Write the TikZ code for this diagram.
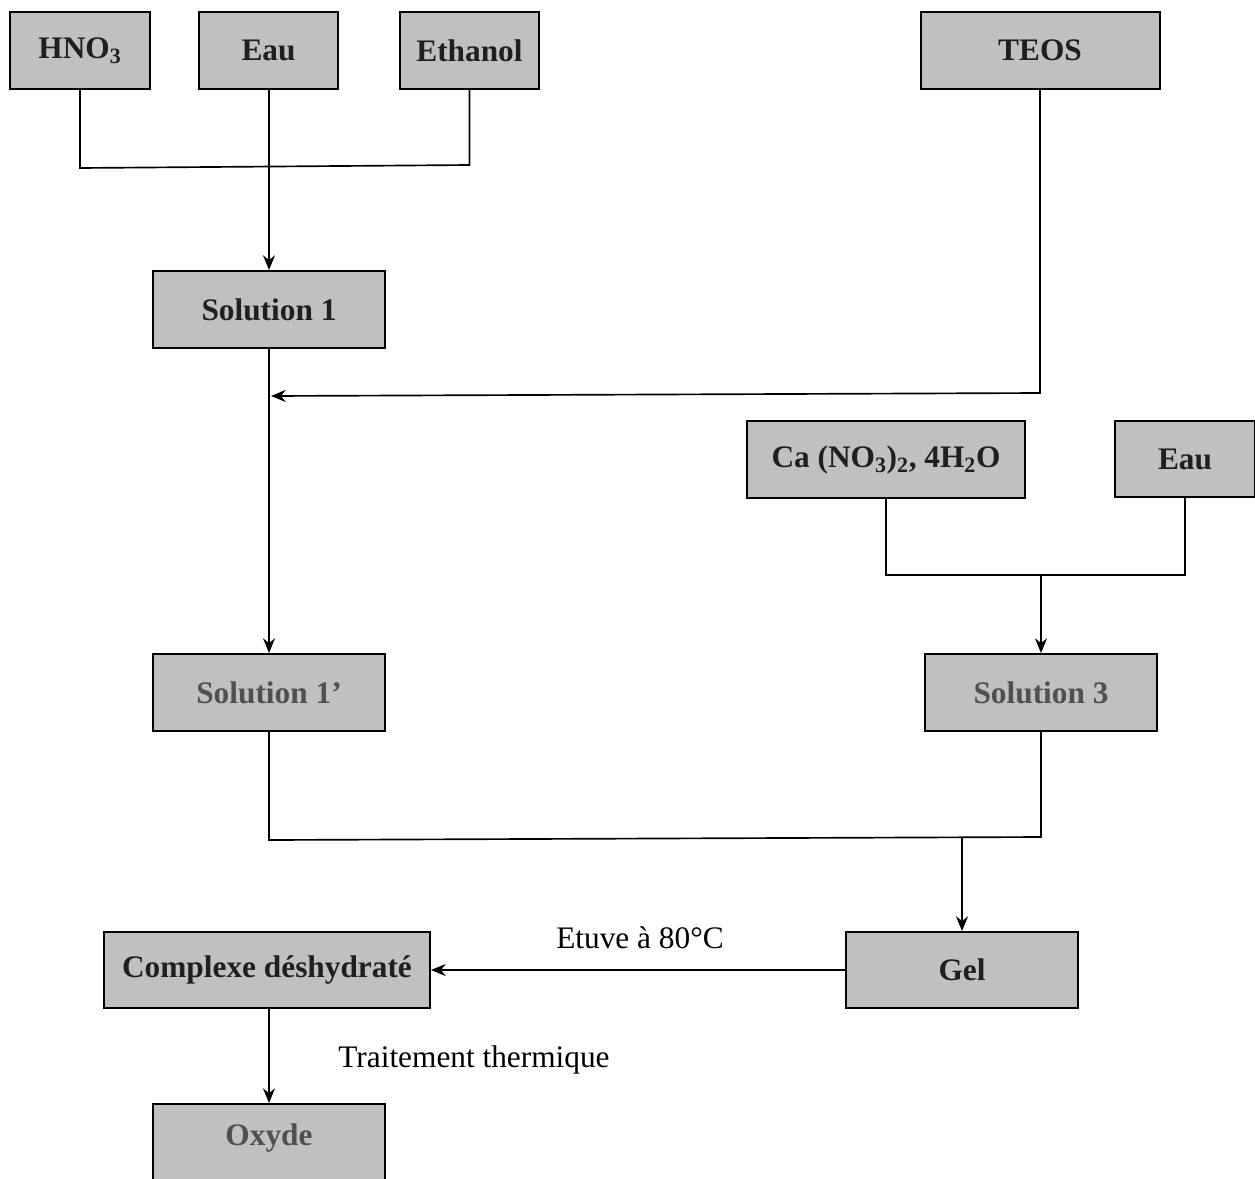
\documentclass[tikz,border=0pt]{standalone}
\usepackage{fontspec}
\setmainfont{Liberation Serif}
\usetikzlibrary{arrows.meta}
\definecolor{boxgray}{HTML}{C0C0C0}
\definecolor{txtgray}{HTML}{505050}
\begin{document}
\begin{tikzpicture}[x=0.75pt,y=-0.75pt,
  box/.style={draw=black,line width=1.5pt,fill=boxgray,minimum height=57.75pt,inner sep=0pt,
    font=\fontsize{23.5}{27}\selectfont\bfseries,text=black!88},
  graybox/.style={box,text=txtgray},
  wire/.style={line width=1.25pt,draw=black},
  arr/.style={wire,-{Stealth[length=11pt,width=9pt]}},
  lbl/.style={font=\fontsize{23.5}{27}\selectfont,inner sep=0pt}]
\clip (0,0) rectangle (1255,1178);
\fill[white] (0,0) rectangle (1255,1178);
% boxes
\node[box,minimum width=105pt] (hno) at (80,50.5) {HNO\textsubscript{3}};
\node[box,minimum width=104.25pt] (eau) at (268.5,50.5) {Eau};
\node[box,minimum width=104.25pt] (eth) at (469.5,50.5) {Ethanol};
\node[box,minimum width=179.25pt] (teos) at (1040,50.5) {TEOS};
\node[box,minimum width=174pt] (sol1) at (269,309.5) {Solution 1};
\node[box,minimum width=208.5pt] (ca) at (886,459.5) {Ca (NO\textsubscript{3})\textsubscript{2}, 4H\textsubscript{2}O};
\node[box,minimum width=105pt,minimum height=57pt] (eaub) at (1185,459) {Eau};
\node[graybox,minimum width=174pt] (sol1p) at (269,692.5) {Solution 1’};
\node[graybox,minimum width=174pt] (sol3) at (1041,692.5) {Solution 3};
\node[box,minimum width=244.5pt,minimum height=57pt] (comp) at (267,970) {Complexe déshydraté};
\node[box,minimum width=174pt,minimum height=57pt] (gel) at (962,970) {Gel};
\node[graybox,minimum width=174pt,minimum height=58.5pt,text depth=0pt] (oxy) at (269,1143) {\raisebox{0pt}[\height][\depth]{\raisebox{12pt}{Oxyde}}};
% junction points
\coordinate (j1) at (80,168);
\coordinate (j2) at (469.5,165);
\coordinate (t1) at (1040,393);
\coordinate (t2) at (271,396);
\coordinate (c1) at (886,575);
\coordinate (c2) at (1185,575);
\coordinate (c3) at (1041,575);
\coordinate (s1) at (269,840);
\coordinate (s2) at (1041,837);
\coordinate (s3) at (962,838);
% connectors
\draw[wire] (hno.south) -- (j1) -- (j2) -- (eth.south);
\draw[arr] (eau.south -| sol1.north) -- (sol1.north);
\draw[arr] (teos.south) -- (t1) -- (t2);
\draw[arr] (sol1.south) -- (sol1p.north);
\draw[wire] (ca.south) -- (c1) -- (c2) -- (eaub.south);
\draw[arr] (c3) -- (sol3.north);
\draw[wire] (sol1p.south) -- (s1) -- (s2) -- (sol3.south);
\draw[arr] (s3) -- (gel.north);
\draw[arr] (gel.west) -- (comp.east);
\draw[arr] (comp.south -| oxy.north) -- (oxy.north);
% labels
\node[lbl] (etuve) at (640,938) {Etuve à 80°C};
\node[lbl] (trait) at (474,1060) {Traitement thermique};
\end{tikzpicture}
\end{document}
